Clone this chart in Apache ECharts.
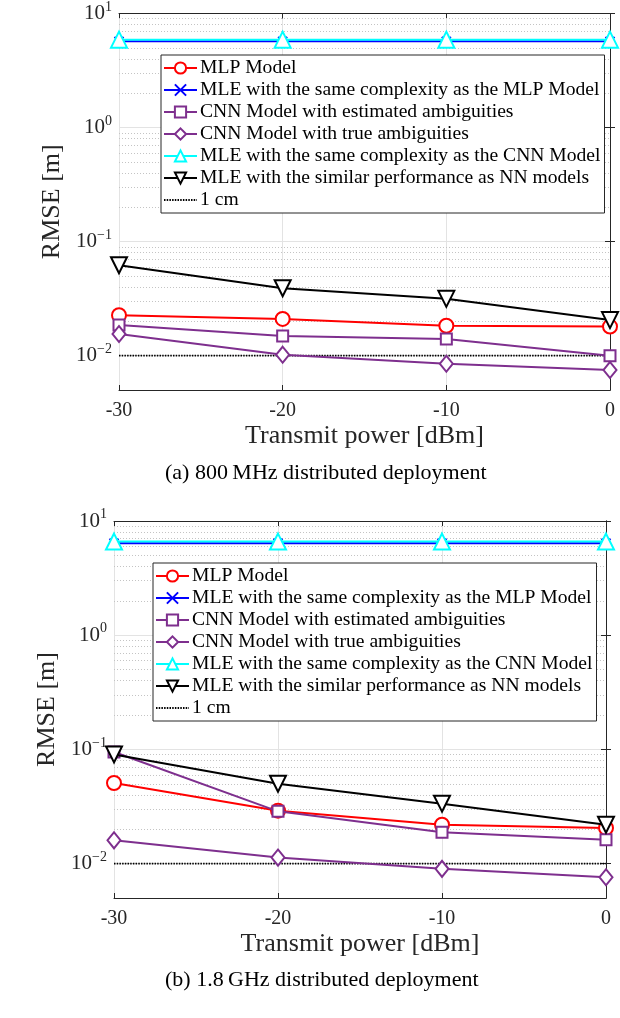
<!DOCTYPE html>
<html>
<head>
<meta charset="utf-8">
<script src="https://cdn.jsdelivr.net/npm/echarts@6/dist/echarts.min.js"></script>
<style>
html, body { margin: 0; padding: 0; background: #fff; }
#main { width: 620px; height: 1018px; }
</style>
</head>
<body>
<div id="main"></div>
<script>
var power = [-30, -20, -10, 0];
var names = [
  'MLP Model',
  'MLE with the same complexity as the MLP Model',
  'CNN Model with estimated ambiguities',
  'CNN Model with true ambiguities',
  'MLE with the same complexity as the CNN Model',
  'MLE with the similar performance as NN models',
  '1 cm'
];

// (a) 800 MHz distributed deployment
var mlpA     = [0.0226, 0.0210, 0.0183, 0.0180];
var mleMlpA  = [5.7, 5.7, 5.7, 5.7];
var cnnEstA  = [0.0186, 0.0149, 0.0140, 0.0100];
var cnnTrueA = [0.0155, 0.0102, 0.0085, 0.0075];
var mleCnnA  = [5.9, 5.9, 5.9, 5.9];
var mleSimA  = [0.0620, 0.0390, 0.0315, 0.0205];

// (b) 1.8 GHz distributed deployment
var mlpB     = [0.0508, 0.0291, 0.0219, 0.0205];
var mleMlpB  = [6.4, 6.4, 6.4, 6.4];
var cnnEstB  = [0.0948, 0.0287, 0.0188, 0.0162];
var cnnTrueB = [0.0160, 0.0113, 0.0090, 0.0076];
var mleCnnB  = [6.6, 6.6, 6.6, 6.6];
var mleSimB  = [0.0904, 0.0501, 0.0335, 0.0219];

var oneCm = 0.01;
var yMin = 0.005, yMax = 10;

// minor log grid values (2..9 x 10^k)
var minorVals = [];
for (var e = -3; e <= 0; e++) {
  for (var m = 2; m <= 9; m++) {
    var v = m * Math.pow(10, e);
    if (v > yMin && v < yMax) minorVals.push(v);
  }
}

var serif = 'Liberation Serif';
var axisCol = '#262626';

function pts(arr) {
  return arr.map(function (v, i) { return [power[i], v]; });
}

function supLabel(v) {
  var l = Math.log10(v);
  var e = Math.round(l);
  if (Math.abs(l - e) > 1e-6) return '';
  return '{b|10}{s|' + (e < 0 ? '\u2212' + (-e) : e) + '}';
}

var styles = [
  { color: '#ff0000', symbol: 'emptyCircle', size: 14 },
  { color: '#0000ff', symbol: 'path://M0,0L10,10M10,0L0,10', size: 9 },
  { color: '#7e2f8e', symbol: 'emptyRect', size: 11 },
  { color: '#7e2f8e', symbol: 'emptyDiamond', size: [13, 16] },
  { color: '#00ffff', symbol: 'emptyTriangle', size: 16 },
  { color: '#000000', symbol: 'emptyTriangle', size: 16, rotate: 180 }
];

function buildSeries(idx, sets) {
  var out = [];
  // 1 cm reference line + minor grid lines
  out.push({
    name: names[6], type: 'line', xAxisIndex: idx * 2, yAxisIndex: idx * 2,
    data: [[power[0], oneCm], [power[power.length - 1], oneCm]],
    symbol: 'none', silent: true, z: 1,
    lineStyle: { color: '#000', width: 1.6, type: [1.5, 1.2] },
    itemStyle: { color: '#000' },
    markLine: {
      silent: true, symbol: 'none', label: { show: false }, z: 1,
      lineStyle: { color: '#c4c4c4', width: 1, type: [1, 2] },
      data: minorVals.map(function (v) { return { yAxis: v }; })
    }
  });
  sets.forEach(function (arr, k) {
    var st = styles[k];
    out.push({
      name: names[k], type: 'line', xAxisIndex: idx * 2, yAxisIndex: idx * 2,
      data: pts(arr), symbol: st.symbol, symbolSize: st.size,
      symbolRotate: st.rotate || 0, showAllSymbol: true, z: 3 + k,
      lineStyle: { color: st.color, width: 2 },
      itemStyle: { color: st.color, borderColor: st.color, borderWidth: 2 }
    });
  });
  return out;
}

function xAxes(gi) {
  return [
    {
      type: 'value', gridIndex: gi, min: -30, max: 0, interval: 10, position: 'bottom',
      name: 'Transmit power [dBm]', nameLocation: 'middle', nameGap: 33,
      nameTextStyle: { fontFamily: serif, fontSize: 26, color: '#262626' },
      axisLine: { lineStyle: { color: axisCol } },
      axisTick: { inside: true, length: 5, lineStyle: { color: axisCol } },
      axisLabel: { fontFamily: serif, fontSize: 20, color: '#262626', margin: 11 },
      splitLine: { show: true, lineStyle: { color: '#e3e3e3', width: 1 } }
    },
    {
      type: 'value', gridIndex: gi, min: -30, max: 0, interval: 10, position: 'top',
      axisLine: { lineStyle: { color: axisCol } },
      axisTick: { inside: true, length: 5, lineStyle: { color: axisCol } },
      axisLabel: { show: false }, splitLine: { show: false }
    }
  ];
}

function yAxes(gi) {
  return [
    {
      type: 'log', logBase: 10, gridIndex: gi, min: yMin, max: yMax, position: 'left',
      name: 'RMSE [m]', nameLocation: 'middle', nameGap: 52,
      nameTextStyle: { fontFamily: serif, fontSize: 26, color: '#262626' },
      axisLine: { show: true, lineStyle: { color: axisCol } },
      axisTick: { inside: true, length: 5, lineStyle: { color: axisCol } },
      axisLabel: {
        formatter: supLabel, showMinLabel: false, margin: 7, color: '#262626',
        rich: {
          b: { fontFamily: serif, fontSize: 21, color: '#262626', lineHeight: 21 },
          s: { fontFamily: serif, fontSize: 14, color: '#262626', lineHeight: 14, padding: [0, 0, 13, 0] }
        }
      },
      splitLine: { show: true, lineStyle: { color: '#e3e3e3', width: 1 } }
    },
    {
      type: 'log', logBase: 10, gridIndex: gi, min: yMin, max: yMax, position: 'right',
      axisLine: { show: true, lineStyle: { color: axisCol } },
      axisTick: { inside: true, length: 5, lineStyle: { color: axisCol } },
      axisLabel: { show: false }, splitLine: { show: false }
    }
  ];
}

function legendFor(left, top) {
  var data = names.slice(0, 6).concat([{ name: names[6], itemStyle: { opacity: 0 } }]);
  return {
    orient: 'vertical', left: left, top: top, data: data, z: 50,
    backgroundColor: '#fff', borderColor: axisCol, borderWidth: 1,
    padding: [3, 4, 3, 2], itemGap: 2, itemWidth: 33, itemHeight: 14,
    selectedMode: false,
    textStyle: { fontFamily: serif, fontSize: 19.6, lineHeight: 20, color: '#000', padding: [0, 0, 0, -2] }
  };
}

var myChart = echarts.init(document.getElementById('main'), null, { renderer: 'canvas' });
var option = {
  backgroundColor: '#fff',
  animation: false,
  grid: [
    { left: 119, right: 10, top: 13, height: 377 },
    { left: 114, right: 14, top: 521, height: 377 }
  ],
  xAxis: xAxes(0).concat(xAxes(1)),
  yAxis: yAxes(0).concat(yAxes(1)),
  legend: [legendFor(161, 55), legendFor(153, 563)],
  series: buildSeries(0, [mlpA, mleMlpA, cnnEstA, cnnTrueA, mleCnnA, mleSimA])
    .concat(buildSeries(1, [mlpB, mleMlpB, cnnEstB, cnnTrueB, mleCnnB, mleSimB])),
  graphic: [
    { type: 'text', left: 165, top: 462, style: { text: '(a) 800\u2009MHz distributed deployment', font: '22px "Liberation Serif"', fill: '#000' } },
    { type: 'text', left: 165, top: 969, style: { text: '(b) 1.8\u2009GHz distributed deployment', font: '22px "Liberation Serif"', fill: '#000' } }
  ]
};
myChart.setOption(option);
</script>
</body>
</html>
